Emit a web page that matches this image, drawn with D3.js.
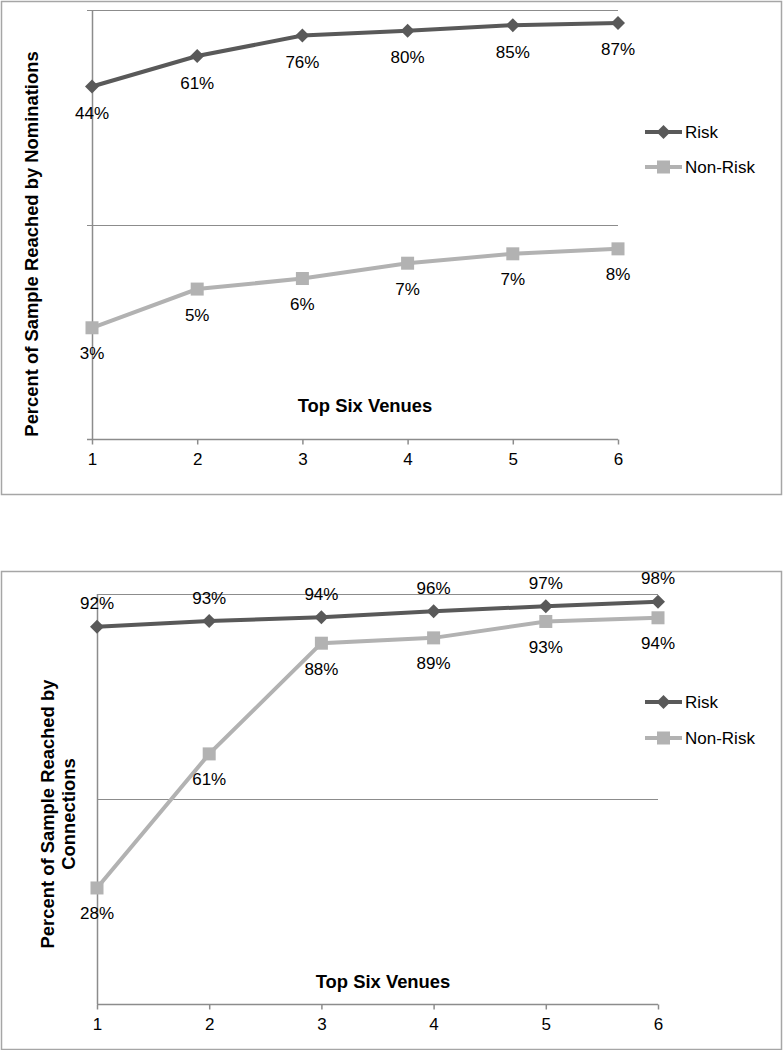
<!DOCTYPE html>
<html>
<head>
<meta charset="utf-8">
<script src="https://cdn.jsdelivr.net/npm/d3@7"></script>
<style>
  html, body { margin: 0; padding: 0; background: #fff; }
  svg { display: block; }
  text { font-family: "Liberation Sans", Arial, sans-serif; fill: #000; }
</style>
</head>
<body>
<svg id="chart" width="783" height="1050"></svg>
<script>
// ---- Data ----
const venues = [1, 2, 3, 4, 5, 6];
const seriesNames = ["Risk", "Non-Risk"];
const nominationsRisk = [44, 61, 76, 80, 85, 87];
const nominationsNonRisk = [3.3, 5.0, 5.6, 6.6, 7.3, 7.7];
const connectionsRisk = [92, 93.4, 94.3, 95.8, 97, 98.1];
const connectionsNonRisk = [28.3, 61, 88, 89.3, 93.3, 94.2];
const nominationsGrid = [10, 100];
const connectionsGrid = [50, 100];

const svg = d3.select("#chart");
const riskColor = "#595959";
const nonRiskColor = "#b2b2b2";
const axisColor = "#8c8c8c";

function panel(cfg) {
  const g = svg.append("g");
  // frame
  g.append("rect")
    .attr("x", cfg.box[0] + 0.5).attr("y", cfg.box[1] + 0.5)
    .attr("width", cfg.box[2] - cfg.box[0]).attr("height", cfg.box[3] - cfg.box[1])
    .attr("fill", "none").attr("stroke", "#a6a6a6").attr("stroke-width", 1.5);

  const x = d3.scaleLinear().domain([1, 6]).range([cfg.x0, cfg.x1]);
  const y = cfg.yScale;

  // gridlines
  g.selectAll(".grid").data(cfg.grid).join("line")
    .attr("x1", cfg.x0 - cfg.yTick).attr("x2", cfg.x1)
    .attr("y1", d => Math.round(y(d)) + 0.5).attr("y2", d => Math.round(y(d)) + 0.5)
    .attr("stroke", axisColor).attr("stroke-width", 1.2);

  // y axis line
  g.append("line")
    .attr("x1", cfg.x0 + 0.5).attr("x2", cfg.x0 + 0.5)
    .attr("y1", y.range()[1]).attr("y2", y.range()[0])
    .attr("stroke", axisColor).attr("stroke-width", 1.5);

  // x axis
  const xAxis = d3.axisBottom(x).tickValues(venues).tickSize(5).tickPadding(8).tickFormat(d3.format("d"));
  const ax = g.append("g").attr("transform", `translate(0,${y.range()[0] + 0.5})`).call(xAxis);
  ax.select(".domain").attr("stroke", axisColor).attr("stroke-width", 1.5).attr("d", `M${cfg.x0 - cfg.yTick},0H${cfg.x1}`);
  ax.selectAll(".tick line").attr("stroke", axisColor).attr("stroke-width", 1.5);
  ax.selectAll(".tick text").attr("font-size", 17).attr("font-family", "Liberation Sans, Arial, sans-serif").attr("fill", "#000");

  // x title
  g.append("text").attr("x", cfg.xTitle[0]).attr("y", cfg.xTitle[1])
    .attr("text-anchor", "middle").attr("font-weight", "bold").attr("font-size", 18.4)
    .text("Top Six Venues");

  // y title
  const yt = g.append("text")
    .attr("transform", `translate(${cfg.yTitle[0]},${cfg.yTitle[1]}) rotate(-90)`)
    .attr("text-anchor", "middle").attr("font-weight", "bold").attr("font-size", 18.4);
  cfg.yTitleLines.forEach((t, i) => {
    yt.append("tspan").attr("x", 0).attr("dy", i === 0 ? 0 : 21).text(t);
  });

  const line = d3.line().x((d, i) => x(venues[i])).y(d => y(d));

  const series = [
    { name: seriesNames[0], values: cfg.risk, color: riskColor, shape: "diamond", labelDy: cfg.riskLabelDy },
    { name: seriesNames[1], values: cfg.nonRisk, color: nonRiskColor, shape: "square", labelDy: cfg.nonRiskLabelDy }
  ];

  function marker(sel, shape, color) {
    if (shape === "diamond") {
      sel.append("path").attr("d", "M0,-7L7,0L0,7L-7,0Z").attr("fill", color);
    } else {
      sel.append("rect").attr("x", -6.5).attr("y", -6.5).attr("width", 13).attr("height", 13).attr("fill", color);
    }
  }

  series.forEach(s => {
    g.append("path").datum(s.values).attr("d", line)
      .attr("fill", "none").attr("stroke", s.color).attr("stroke-width", 4);
    s.values.forEach((v, i) => {
      const m = g.append("g").attr("transform", `translate(${x(venues[i])},${y(v)})`);
      marker(m, s.shape, s.color);
    });
    g.selectAll(null).data(s.values).join("text")
      .attr("x", (d, i) => x(venues[i]))
      .attr("y", d => y(d) + s.labelDy)
      .attr("text-anchor", "middle").attr("dominant-baseline", "central")
      .attr("font-size", 17)
      .text(d => Math.round(d) + "%");
  });

  // legend
  series.forEach((s, i) => {
    const ly = cfg.legend[1] + i * cfg.legendGap;
    g.append("line").attr("x1", cfg.legend[0]).attr("x2", cfg.legend[0] + 37)
      .attr("y1", ly).attr("y2", ly).attr("stroke", s.color).attr("stroke-width", 4);
    const m = g.append("g").attr("transform", `translate(${cfg.legend[0] + 18.5},${ly})`);
    marker(m, s.shape, s.color);
    g.append("text").attr("x", cfg.legend[0] + 40).attr("y", ly)
      .attr("dominant-baseline", "central").attr("font-size", 17).text(s.name);
  });
}

panel({
  box: [1, 1, 781, 494],
  x0: 92, x1: 618,
  yScale: d3.scaleLog().domain([1, 100]).range([439, 10]),
  grid: nominationsGrid,
  yTick: 5,
  risk: nominationsRisk, nonRisk: nominationsNonRisk,
  riskLabelDy: 27, nonRiskLabelDy: 26,
  xTitle: [365, 412],
  yTitle: [38, 244],
  yTitleLines: ["Percent of Sample Reached by Nominations"],
  legend: [645, 132], legendGap: 35
});

panel({
  box: [1, 571, 781, 1049],
  x0: 97, x1: 658,
  yScale: d3.scaleLinear().domain([0, 100]).range([1004, 594]),
  grid: connectionsGrid,
  yTick: 0,
  risk: connectionsRisk, nonRisk: connectionsNonRisk,
  riskLabelDy: -23, nonRiskLabelDy: 26,
  xTitle: [383, 988],
  yTitle: [53.5, 814],
  yTitleLines: ["Percent of Sample Reached by", "Connections"],
  legend: [645, 702], legendGap: 36
});
</script>
</body>
</html>
